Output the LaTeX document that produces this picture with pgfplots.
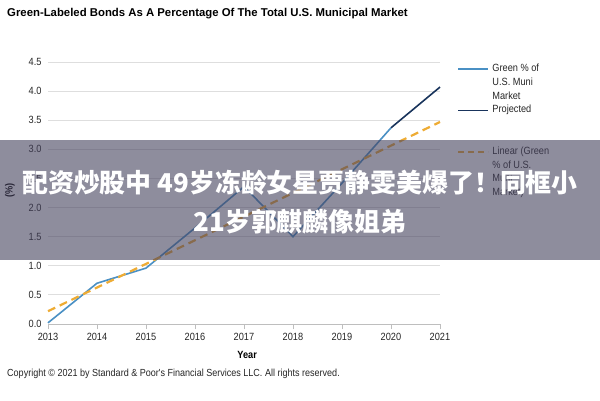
\documentclass[border=0pt]{standalone}
\usepackage{fontspec}
\setmainfont{Liberation Sans}
\newfontfamily\narrow{Liberation Sans}[FakeStretch=0.88]
\newfontfamily\cjk{Noto Sans CJK SC}
\usepackage{pgfplots}
\pgfplotsset{compat=1.18}
\definecolor{gblue}{RGB}{74,144,196}
\definecolor{navy}{RGB}{25,52,92}
\definecolor{gold}{RGB}{238,172,52}
\definecolor{gridc}{RGB}{222,222,222}
\definecolor{axc}{RGB}{190,190,190}
\definecolor{bandc}{RGB}{68,65,93}
\begin{document}
\begin{tikzpicture}[x=1bp,y=1bp]
\useasboundingbox (0,0) rectangle (600,400);
\fill[white] (0,0) rectangle (600,400);
\node[anchor=west, font=\bfseries\fontsize{11.4}{13}\selectfont, inner sep=0] at (7,386)
  {Green-Labeled Bonds As A Percentage Of The Total U.S. Municipal Market};
\begin{axis}[
  at={(48bp,76bp)}, anchor=south west,
  scale only axis, width=392bp, height=262bp,
  xmin=2013, xmax=2021, ymin=0, ymax=4.5,
  xtick={2013,2014,...,2021},
  xticklabels={2013,2014,2015,2016,2017,2018,2019,2020,2021},
  ytick={0,0.5,1,1.5,2,2.5,3,3.5,4,4.5},
  yticklabels={0.0,0.5,1.0,1.5,2.0,2.5,3.0,3.5,4.0,4.5},
  axis lines*=left,
  x axis line style={axc, line width=0.8bp, -},
  y axis line style={draw=none},
  xtick align=outside, ytick align=inside,
  major tick length=5bp,
  xtick style={axc, line width=0.8bp},
  ytick style={draw=none},
  ymajorgrids, grid style={gridc, line width=0.8bp},
  ticklabel style={font=\narrow\fontsize{10.5}{12}\selectfont, text=black!85},
  yticklabel style={xshift=-3bp},
  xticklabel style={yshift=-1bp},
  xlabel={Year}, ylabel={(\%)},
  xlabel style={font=\narrow\bfseries\fontsize{10.5}{12}\selectfont, at={(axis description cs:0.508,-0.118)}, anchor=center},
  ylabel style={font=\narrow\bfseries\fontsize{10.5}{12}\selectfont, at={(axis description cs:-0.097,0.511)}, anchor=center},
  clip=false,
  legend image code/.code={\draw[#1] (0bp,0bp) -- (30bp,0bp);},
  legend style={at={(axis description cs:1.0434,1.0000)}, anchor=north west, draw=none, fill=none,
    inner sep=0pt, row sep=0pt, column sep=3bp,
    nodes={inner sep=0pt, text height=9.3bp, text depth=4.5bp, font=\narrow\fontsize{10.5}{12}\selectfont, text=black!85},
    cells={anchor=west}},
]
\addplot[gblue, line width=1.6bp, forget plot] coordinates {
  (2013,0.02) (2014,0.70) (2015,0.96) (2016,1.65) (2017,2.36) (2018,1.50) (2019,2.42) (2020,3.37)};
\addplot[navy, line width=1.6bp, forget plot] coordinates {(2020,3.37) (2021,4.07)};
\addplot[gold, line width=2.2bp, dash pattern=on 8bp off 5bp, forget plot] coordinates {(2013,0.22) (2021,3.47)};
\addlegendimage{gblue, line width=1.6bp}
\addlegendentry{Green \% of}
\addlegendimage{empty legend}
\addlegendentry{U.S. Muni}
\addlegendimage{empty legend}
\addlegendentry{Market}
\addlegendimage{navy, line width=1.6bp}
\addlegendentry{Projected}
\addlegendimage{empty legend}
\addlegendentry{}
\addlegendimage{empty legend}
\addlegendentry{}
\addlegendimage{gold, line width=2.2bp, dash pattern=on 6bp off 4bp}
\addlegendentry{Linear (Green}
\addlegendimage{empty legend}
\addlegendentry{\% of U.S.}
\addlegendimage{empty legend}
\addlegendentry{Muni}
\addlegendimage{empty legend}
\addlegendentry{Market)}
\end{axis}
\node[anchor=west, font=\narrow\fontsize{10.3}{12}\selectfont, inner sep=0, text=black!85] at (7,26)
  {Copyright \textcopyright{} 2021 by Standard \& Poor's Financial Services LLC. All rights reserved.};
\fill[bandc, opacity=0.6] (0,140) rectangle (600,260);
\node[font=\cjk\bfseries\fontsize{26}{30}\selectfont, text=white, inner sep=0] at (300,217)
  {配资炒股中 49岁冻龄女星贾静雯美爆了！同框小};
\node[font=\cjk\bfseries\fontsize{26}{30}\selectfont, text=white, inner sep=0] at (300,178)
  {21岁郭麒麟像姐弟};
\end{tikzpicture}
\end{document}
